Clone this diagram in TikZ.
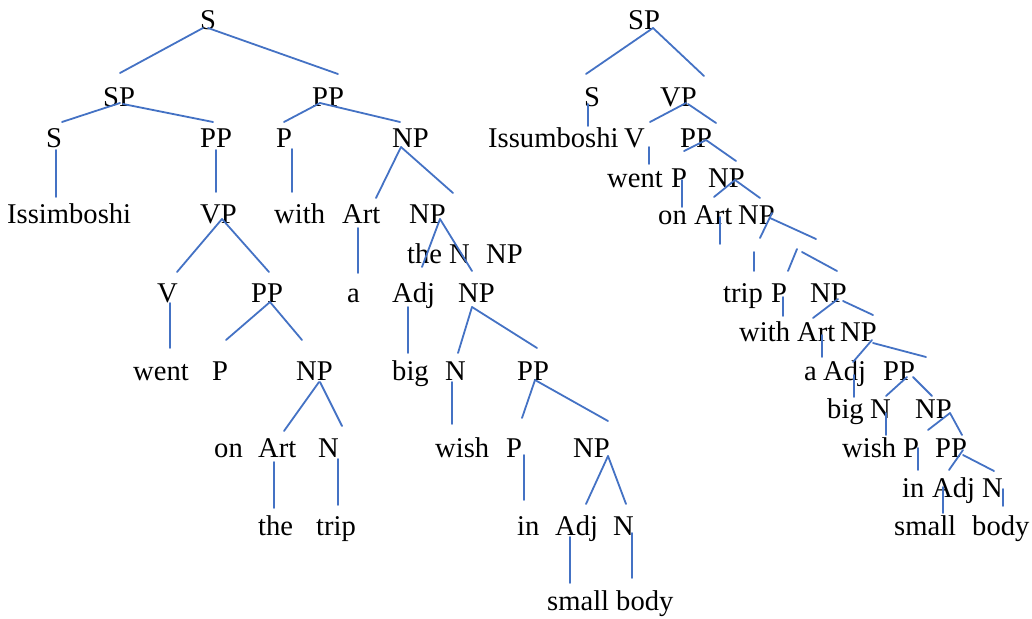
\documentclass[tikz,border=0pt]{standalone}
\usepackage{fontspec}
\setmainfont{Liberation Serif}
\usepackage{tikz}
\definecolor{ttqqcc}{rgb}{0.267,0.447,0.769}
\tikzset{
  lbl/.style={anchor=base west,inner sep=0pt,font=\fontsize{28.6}{34}\selectfont},
  branch/.style={color=ttqqcc,line width=1.8pt}
}
\begin{document}
\begin{tikzpicture}[line cap=round,line join=round,x=1pt,y=-1pt]
		\useasboundingbox (0,0) rectangle (1032,618);
		% left tree
		\node[lbl] (lS) at (200,30) {S};
		\node[lbl] (lSP) at (103,106) {SP};
		\node[lbl] (lPP) at (312,106) {PP};
		\node[lbl] (lS2) at (46,147) {S};
		\node[lbl] (lPP2) at (200,147) {PP};
		\node[lbl] (lP) at (276,147) {P};
		\node[lbl] (lNP) at (392,147) {NP};
		\node[lbl] (lIss) at (7,223) {Issimboshi};
		\node[lbl] (lVP) at (200,223) {VP};
		\node[lbl] (lwith) at (274,223) {with};
		\node[lbl] (lArt) at (342,223) {Art};
		\node[lbl] (lNP2) at (409,223) {NP};
		\node[lbl] (lthe) at (407,263) {the};
		\node[lbl] (lN) at (449,263) {N};
		\node[lbl] (lNP3) at (486,263) {NP};
		\node[lbl] (lV) at (157,302) {V};
		\node[lbl] (lPP3) at (251,302) {PP};
		\node[lbl] (la) at (347,302) {a};
		\node[lbl] (lAdj) at (392,302) {Adj};
		\node[lbl] (lNP4) at (458,302) {NP};
		\node[lbl] (lwent) at (133,380) {went};
		\node[lbl] (lP2) at (212,380) {P};
		\node[lbl] (lNP5) at (296,380) {NP};
		\node[lbl] (lbig) at (392,380) {big};
		\node[lbl] (lN2) at (445,380) {N};
		\node[lbl] (lPP4) at (517,380) {PP};
		\node[lbl] (lon) at (214,457) {on};
		\node[lbl] (lArt2) at (258,457) {Art};
		\node[lbl] (lN3) at (318,457) {N};
		\node[lbl] (lwish) at (435,457) {wish};
		\node[lbl] (lP3) at (506,457) {P};
		\node[lbl] (lNP6) at (573,457) {NP};
		\node[lbl] (lthe2) at (258,535) {the};
		\node[lbl] (ltrip) at (316,535) {trip};
		\node[lbl] (lin) at (517,535) {in};
		\node[lbl] (lAdj2) at (555,535) {Adj};
		\node[lbl] (lN4) at (613,535) {N};
		\node[lbl] (lsmall) at (547,610) {small};
		\node[lbl] (lbody) at (616,610) {body};
		\draw [branch] ([shift={(3,-2)}]lS.base west) -- ([shift={(17,-33)}]lSP.base west);
		\draw [branch] ([shift={(8,-2)}]lS.base west) -- ([shift={(26,-32)}]lPP.base west);
		\draw [branch] ([shift={(17,-3)}]lSP.base west) -- ([shift={(16,-25)}]lS2.base west);
		\draw [branch] ([shift={(20,-2)}]lSP.base west) -- ([shift={(13,-25)}]lPP2.base west);
		\draw [branch] ([shift={(8,-3)}]lPP.base west) -- ([shift={(8,-25)}]lP.base west);
		\draw [branch] ([shift={(8,-3)}]lPP.base west) -- ([shift={(8,-25)}]lNP.base west);
		\draw [branch] ([shift={(10,3)}]lS2.base west) -- ([shift={(49,-26)}]lIss.base west);
		\draw [branch] ([shift={(16,3)}]lPP2.base west) -- ([shift={(16,-31)}]lVP.base west);
		\draw [branch] ([shift={(16,2)}]lP.base west) -- ([shift={(18,-31)}]lwith.base west);
		\draw [branch] ([shift={(9,0)}]lNP.base west) -- ([shift={(34,-25)}]lArt.base west);
		\draw [branch] ([shift={(9,0)}]lNP.base west) -- ([shift={(44,-30)}]lNP2.base west);
		\draw [branch] ([shift={(22,-4)}]lVP.base west) -- ([shift={(20,-30)}]lV.base west);
		\draw [branch] ([shift={(22,-4)}]lVP.base west) -- ([shift={(18,-30)}]lPP3.base west);
		\draw [branch] ([shift={(16,5)}]lArt.base west) -- ([shift={(11,-29)}]la.base west);
		\draw [branch] ([shift={(31,-4)}]lNP2.base west) -- ([shift={(30,-35)}]lAdj.base west);
		\draw [branch] ([shift={(31,-4)}]lNP2.base west) -- ([shift={(14,-31)}]lNP4.base west);
		\draw [branch] ([shift={(13,1)}]lV.base west) -- ([shift={(37,-32)}]lwent.base west);
		\draw [branch] ([shift={(19,0)}]lPP3.base west) -- ([shift={(14,-40)}]lP2.base west);
		\draw [branch] ([shift={(19,0)}]lPP3.base west) -- ([shift={(6,-40)}]lNP5.base west);
		\draw [branch] ([shift={(16,5)}]lAdj.base west) -- ([shift={(16,-27)}]lbig.base west);
		\draw [branch] ([shift={(14,5)}]lNP4.base west) -- ([shift={(13,-27)}]lN2.base west);
		\draw [branch] ([shift={(14,5)}]lNP4.base west) -- ([shift={(20,-32)}]lPP4.base west);
		\draw [branch] ([shift={(23,2)}]lNP5.base west) -- ([shift={(26,-26)}]lArt2.base west);
		\draw [branch] ([shift={(24,2)}]lNP5.base west) -- ([shift={(24,-31)}]lN3.base west);
		\draw [branch] ([shift={(7,2)}]lN2.base west) -- ([shift={(17,-33)}]lwish.base west);
		\draw [branch] ([shift={(18,0)}]lPP4.base west) -- ([shift={(16,-39)}]lP3.base west);
		\draw [branch] ([shift={(18,0)}]lPP4.base west) -- ([shift={(35,-36)}]lNP6.base west);
		\draw [branch] ([shift={(16,5)}]lArt2.base west) -- ([shift={(16,-27)}]lthe2.base west);
		\draw [branch] ([shift={(20,2)}]lN3.base west) -- ([shift={(22,-30)}]ltrip.base west);
		\draw [branch] ([shift={(18,-2)}]lP3.base west) -- ([shift={(7,-35)}]lin.base west);
		\draw [branch] ([shift={(35,-1)}]lNP6.base west) -- ([shift={(31,-31)}]lAdj2.base west);
		\draw [branch] ([shift={(35,-1)}]lNP6.base west) -- ([shift={(13,-31)}]lN4.base west);
		\draw [branch] ([shift={(15,2)}]lAdj2.base west) -- ([shift={(23,-27)}]lsmall.base west);
		\draw [branch] ([shift={(19,-2)}]lN4.base west) -- ([shift={(16,-32)}]lbody.base west);
		% right tree
		\node[lbl] (rSP) at (628,30) {SP};
		\node[lbl] (rS) at (584,106) {S};
		\node[lbl] (rVP) at (660,106) {VP};
		\node[lbl] (rIss) at (488,147) {Issumboshi};
		\node[lbl] (rV) at (624,147) {V};
		\node[lbl] (rPP) at (680,147) {PP};
		\node[lbl] (rwent) at (607,187) {went};
		\node[lbl] (rP) at (671,187) {P};
		\node[lbl] (rNP) at (708,187) {NP};
		\node[lbl] (ron) at (658,224) {on};
		\node[lbl] (rArt) at (694,224) {Art};
		\node[lbl] (rNP2) at (738,224) {NP};
		\node[lbl] (rtrip) at (723,302) {trip};
		\node[lbl] (rP2) at (771,302) {P};
		\node[lbl] (rNP3) at (810,302) {NP};
		\node[lbl] (rwith) at (739,341) {with};
		\node[lbl] (rArt2) at (797,341) {Art};
		\node[lbl] (rNP4) at (840,341) {NP};
		\node[lbl] (ra) at (804,380) {a};
		\node[lbl] (rAdj) at (823,380) {Adj};
		\node[lbl] (rPP2) at (883,380) {PP};
		\node[lbl] (rbig) at (827,418) {big};
		\node[lbl] (rN) at (870,418) {N};
		\node[lbl] (rNP5) at (915,418) {NP};
		\node[lbl] (rwish) at (842,457) {wish};
		\node[lbl] (rP3) at (903,457) {P};
		\node[lbl] (rPP3) at (935,457) {PP};
		\node[lbl] (rin) at (902,497) {in};
		\node[lbl] (rAdj2) at (932,497) {Adj};
		\node[lbl] (rN2) at (982,497) {N};
		\node[lbl] (rsmall) at (894,535) {small};
		\node[lbl] (rbody) at (972,535) {body};
		\draw [branch] ([shift={(25,-2)}]rSP.base west) -- ([shift={(2,-32)}]rS.base west);
		\draw [branch] ([shift={(25,-2)}]rSP.base west) -- ([shift={(44,-30)}]rVP.base west);
		\draw [branch] ([shift={(4,-2)}]rS.base west) -- ([shift={(100,-21)}]rIss.base west);
		\draw [branch] ([shift={(26,-3)}]rVP.base west) -- ([shift={(26,-25)}]rV.base west);
		\draw [branch] ([shift={(28,-2)}]rVP.base west) -- ([shift={(36,-24)}]rPP.base west);
		\draw [branch] ([shift={(25,0)}]rV.base west) -- ([shift={(42,-23)}]rwent.base west);
		\draw [branch] ([shift={(26,-7)}]rPP.base west) -- ([shift={(13,-36)}]rP.base west);
		\draw [branch] ([shift={(26,-7)}]rPP.base west) -- ([shift={(28,-26)}]rNP.base west);
		\draw [branch] ([shift={(11,-7)}]rP.base west) -- ([shift={(24,-17)}]ron.base west);
		\draw [branch] ([shift={(27,-7)}]rNP.base west) -- ([shift={(20,-27)}]rArt.base west);
		\draw [branch] ([shift={(27,-7)}]rNP.base west) -- ([shift={(22,-26)}]rNP2.base west);
		\draw [branch] ([shift={(26,-7)}]rArt.base west) -- ([shift={(26,20)}]rArt.base west);
		\draw [branch] ([shift={(34,-11)}]rNP2.base west) -- ([shift={(22,14)}]rNP2.base west);
		\draw [branch] ([shift={(32,-6)}]rNP2.base west) -- ([shift={(78,15)}]rNP2.base west);
		\draw [branch] ([shift={(31,-50)}]rtrip.base west) -- ([shift={(31,-31)}]rtrip.base west);
		\draw [branch] ([shift={(26,-53)}]rP2.base west) -- ([shift={(17,-31)}]rP2.base west);
		\draw [branch] ([shift={(-8,-50)}]rNP3.base west) -- ([shift={(27,-31)}]rNP3.base west);
		\draw [branch] ([shift={(12,-5)}]rP2.base west) -- ([shift={(44,-25)}]rwith.base west);
		\draw [branch] ([shift={(28,-3)}]rNP3.base west) -- ([shift={(16,-23)}]rArt2.base west);
		\draw [branch] ([shift={(33,-1)}]rNP3.base west) -- ([shift={(33,-26)}]rNP4.base west);
		\draw [branch] ([shift={(25,-6)}]rArt2.base west) -- ([shift={(18,-23)}]ra.base west);
		\draw [branch] ([shift={(32,-1)}]rNP4.base west) -- ([shift={(30,-18)}]rAdj.base west);
		\draw [branch] ([shift={(33,2)}]rNP4.base west) -- ([shift={(43,-23)}]rPP2.base west);
		\draw [branch] ([shift={(31,-5)}]rAdj.base west) -- ([shift={(27,-21)}]rbig.base west);
		\draw [branch] ([shift={(24,-3)}]rPP2.base west) -- ([shift={(16,-22)}]rN.base west);
		\draw [branch] ([shift={(30,-3)}]rPP2.base west) -- ([shift={(17,-22)}]rNP5.base west);
		\draw [branch] ([shift={(16,-5)}]rN.base west) -- ([shift={(44,-22)}]rwish.base west);
		\draw [branch] ([shift={(35,-5)}]rNP5.base west) -- ([shift={(25,-27)}]rP3.base west);
		\draw [branch] ([shift={(35,-5)}]rNP5.base west) -- ([shift={(27,-22)}]rPP3.base west);
		\draw [branch] ([shift={(15,-9)}]rP3.base west) -- ([shift={(16,-27)}]rin.base west);
		\draw [branch] ([shift={(28,-7)}]rPP3.base west) -- ([shift={(17,-27)}]rAdj2.base west);
		\draw [branch] ([shift={(28,-2)}]rPP3.base west) -- ([shift={(12,-26)}]rN2.base west);
		\draw [branch] ([shift={(11,-10)}]rAdj2.base west) -- ([shift={(49,-22)}]rsmall.base west);
		\draw [branch] ([shift={(21,-8)}]rN2.base west) -- ([shift={(31,-29)}]rbody.base west);
\end{tikzpicture}
\end{document}
